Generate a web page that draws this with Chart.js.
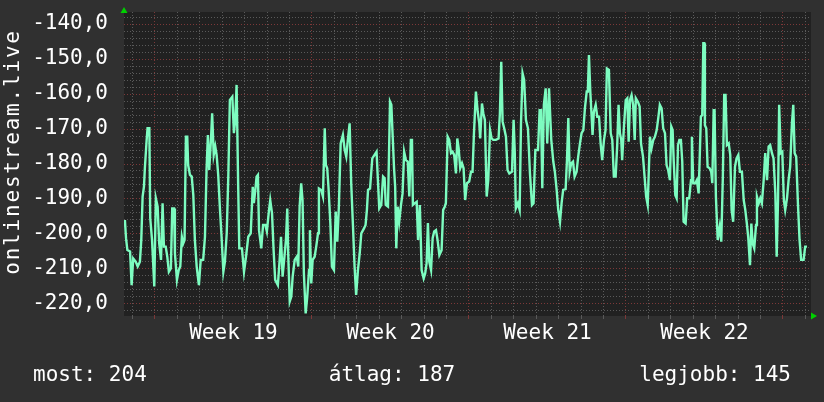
<!DOCTYPE html>
<html>
<head>
<meta charset="utf-8">
<script src="https://cdn.jsdelivr.net/npm/chart.js@4"></script>
<style>
  html, body { margin: 0; padding: 0; background: #303030; }
  #wrap { width: 824px; height: 402px; }
</style>
</head>
<body>
<div id="wrap"><canvas id="pingChart" width="824" height="402"></canvas></div>
<script>
// days measured from the start of week 19 (red grid line)
const dayPos = [
  -1.34, -1.29, -1.23, -1.11, -1.04, -0.97, -0.86, -0.77, -0.67, -0.61, -0.55, -0.49, -0.45, -0.37, -0.33, -0.25, -0.21, -0.13, -0.03,
  0.04, 0.12, 0.19, 0.27, 0.34, 0.40, 0.48, 0.55, 0.62, 0.71, 0.77, 0.85, 0.89, 0.98, 1.06, 1.13, 1.20, 1.26, 1.32, 1.38, 1.44, 1.48,
  1.56, 1.64, 1.71, 1.78, 1.86, 1.96, 2.04, 2.15, 2.23, 2.30, 2.36, 2.42, 2.50, 2.55, 2.62, 2.69, 2.75, 2.82, 2.90, 2.97, 3.05, 3.12,
  3.20, 3.27, 3.34, 3.45, 3.52, 3.58, 3.64, 3.71, 3.76, 3.88, 3.97, 4.06, 4.16, 4.27, 4.36, 4.41, 4.49, 4.53, 4.59, 4.64, 4.74, 4.82,
  4.92, 4.99, 5.07, 5.14, 5.22, 5.29, 5.36, 5.48, 5.56, 5.62, 5.69, 5.76, 5.84, 5.90, 5.94, 6.01, 6.08, 6.14, 6.23, 6.32, 6.39, 6.45,
  6.52, 6.58, 6.64, 6.72, 6.79, 6.87, 6.91, 6.97, 7.03, 7.12, 7.19, 7.27, 7.31, 7.41, 7.49, 7.57, 7.62, 7.68, 7.74, 7.82, 7.89, 7.98,
  8.06, 8.13, 8.20, 8.28, 8.38, 8.46, 8.53, 8.60, 8.68, 8.75, 8.83, 8.90, 8.97, 9.05, 9.13, 9.20, 9.32, 9.39, 9.45, 9.50, 9.59, 9.69,
  9.79, 9.88, 9.94, 10.00, 10.09, 10.17, 10.24, 10.29, 10.39, 10.48, 10.54, 10.60, 10.66, 10.71, 10.76, 10.82, 10.89, 10.97, 11.04,
  11.11, 11.19, 11.27, 11.34, 11.41, 11.46, 11.50, 11.59, 11.67, 11.73, 11.81, 11.89, 11.98, 12.05, 12.11, 12.17, 12.23, 12.31, 12.38,
  12.45, 12.53, 12.60, 12.68, 12.78, 12.85, 12.92, 12.97, 13.05, 13.12, 13.20, 13.27, 13.34, 13.42, 13.48, 13.54, 13.61, 13.69, 13.76,
  13.83, 13.91, 14.01, 14.09, 14.16, 14.22, 14.31, 14.39, 14.46, 14.50, 14.58, 14.64, 14.71, 14.79, 14.86, 14.94, 15.01, 15.08, 15.20,
  15.32, 15.38, 15.44, 15.50, 15.57, 15.65, 15.72, 15.80, 15.92, 15.99, 16.04, 16.09, 16.18, 16.26, 16.32, 16.39, 16.46, 16.54, 16.63,
  16.72, 16.81, 16.88, 16.96, 17.08, 17.15, 17.21, 17.27, 17.34, 17.42, 17.49, 17.57, 17.61, 17.67, 17.76, 17.83, 17.91, 17.98, 18.06,
  18.13, 18.20, 18.31, 18.37, 18.43, 18.49, 18.56, 18.64, 18.71, 18.80, 18.87, 18.95, 19.02, 19.10, 19.17, 19.25, 19.30, 19.35, 19.41,
  19.47, 19.51, 19.57, 19.65, 19.72, 19.80, 19.87, 19.94, 20.02, 20.09, 20.15, 20.24, 20.32, 20.39, 20.46, 20.54, 20.61, 20.67, 20.73,
  20.79, 20.83, 20.91, 20.99, 21.06, 21.12, 21.18, 21.25, 21.32, 21.39, 21.44, 21.53, 21.61, 21.67, 21.76, 21.83, 21.90, 21.97, 22.02,
  22.07, 22.14, 22.22, 22.29, 22.37, 22.44, 22.51, 22.59, 22.66, 22.74, 22.81, 22.88, 22.96, 23.02, 23.08, 23.13, 23.20, 23.26, 23.32,
  23.38, 23.45, 23.51, 23.57, 23.66, 23.73, 23.82, 23.90, 23.94, 24.00, 24.09, 24.16, 24.24, 24.30, 24.34, 24.40, 24.45, 24.49, 24.52,
  24.58, 24.64, 24.73, 24.80, 24.85, 24.91, 24.95, 25.01, 25.09, 25.18, 25.25, 25.32, 25.38, 25.44, 25.50, 25.58, 25.65, 25.71, 25.78,
  25.86, 25.93, 26.01, 26.08, 26.17, 26.25, 26.32, 26.39, 26.45, 26.53, 26.59, 26.65, 26.72, 26.80, 26.84, 26.92, 26.99, 27.06, 27.14,
  27.21, 27.29, 27.36, 27.43, 27.51, 27.58, 27.66, 27.72, 27.78, 27.83, 27.90, 27.97, 28.04, 28.10, 28.18, 28.25, 28.32, 28.40, 28.46,
  28.52, 28.59, 28.67, 28.74, 28.81, 28.92, 28.99, 29.07
];
const latency = [
  -196.0, -201.2, -204.6, -205.0, -214.6, -207.0, -207.9, -209.3, -207.9, -201.7, -189.3, -186.5, -181.2, -173.1, -169.8, -169.8, -195.5, -201.7, -215.0,
  -189.8, -192.2, -202.7, -207.4, -191.2, -203.6, -203.6, -206.5, -210.8, -209.8, -192.7, -192.7, -205.5, -213.1, -210.3, -209.3, -200.8, -202.7, -201.7, -172.2, -172.2, -180.3,
  -183.1, -183.6, -188.9, -201.7, -209.3, -214.6, -207.4, -207.4, -200.8, -181.7, -171.7, -181.7, -172.7, -165.5, -177.4, -175.0, -177.4, -183.1, -193.1, -200.8, -210.8, -207.9,
  -199.8, -183.6, -161.7, -160.8, -171.2, -167.4, -157.4, -186.0, -204.1, -204.1, -210.8, -206.5, -200.8, -199.8, -186.5, -191.2, -186.5, -183.6, -183.1, -198.9, -204.1, -197.4,
  -197.4, -199.3, -194.1, -190.3, -194.1, -204.6, -213.1, -214.6, -207.4, -200.8, -212.2, -207.4, -201.7, -192.7, -205.5, -219.3, -217.9, -212.2, -207.4, -206.5, -209.3, -192.2,
  -185.5, -190.3, -211.2, -222.7, -217.9, -210.3, -198.9, -214.1, -207.4, -206.5, -203.6, -199.8, -187.0, -187.4, -189.3, -169.8, -180.3, -181.2, -187.0, -196.9, -209.3, -210.3,
  -193.6, -202.2, -192.2, -174.1, -171.7, -176.0, -177.9, -173.1, -168.4, -185.5, -197.9, -209.3, -217.4, -210.3, -205.5, -199.8, -198.4, -197.4, -193.1, -187.4, -187.0, -178.4,
  -177.4, -176.5, -184.6, -192.7, -191.7, -183.6, -184.1, -191.7, -192.2, -162.2, -163.1, -172.2, -181.2, -186.5, -204.1, -192.2, -196.5, -191.7, -188.4,
  -176.5, -178.9, -179.3, -189.3, -173.1, -173.1, -191.7, -191.2, -190.8, -201.7, -191.7, -210.3, -212.7, -211.2, -208.4, -196.9, -207.9, -210.3, -201.2,
  -199.3, -198.9, -201.7, -206.0, -204.6, -193.1, -192.2, -191.2, -172.2, -173.1, -176.9, -176.5, -177.4, -182.7, -172.7, -175.5, -181.2, -179.8, -181.2,
  -190.3, -185.5, -185.0, -182.2, -182.2, -171.7, -159.3, -165.0, -168.4, -172.7, -162.7, -165.5, -167.4, -189.3, -184.6, -170.3, -172.7, -173.1, -173.1,
  -172.7, -165.5, -150.8, -167.9, -169.8, -172.2, -181.7, -182.7, -182.2, -167.4, -176.0, -192.7, -191.2, -193.1, -168.4, -154.1, -156.0, -167.4, -169.8,
  -182.7, -191.7, -191.2, -176.0, -176.0, -164.6, -164.6, -186.9, -163.1, -158.4, -174.1, -158.4, -158.4, -173.1, -179.3, -182.2, -187.4, -193.1, -196.5,
  -191.2, -187.4, -187.2, -178.9, -166.9, -182.2, -179.8, -179.3, -183.6, -182.2, -177.9, -174.1, -171.2, -170.3, -164.1, -159.3, -159.3, -148.9, -159.3,
  -166.5, -171.7, -165.0, -163.1, -166.5, -166.5, -174.1, -178.9, -173.1, -170.3, -152.7, -153.1, -171.2, -173.1, -183.6, -183.6, -174.6, -163.1, -171.2,
  -173.1, -178.9, -169.3, -161.7, -161.2, -173.6, -161.7, -160.3, -163.1, -173.1, -161.2, -162.2, -163.6, -174.1, -177.9, -183.6, -189.3, -191.7, -181.7,
  -172.2, -175.5, -173.1, -172.2, -170.3, -166.9, -163.1, -164.1, -169.8, -171.2, -180.3, -181.7, -184.6, -169.3, -170.3, -179.3, -188.9, -189.8, -174.6,
  -173.1, -173.1, -179.3, -196.5, -197.0, -189.8, -189.8, -184.6, -172.2, -185.5, -185.5, -184.6, -188.4, -175.5, -166.5, -166.0, -145.5, -145.5, -168.9,
  -169.8, -180.8, -181.2, -182.2, -185.5, -164.6, -164.6, -189.3, -201.7, -197.9, -202.2, -183.6, -160.3, -160.3, -174.6, -174.1, -177.4, -193.1, -196.5,
  -180.8, -178.4, -177.4, -182.2, -182.2, -190.3, -193.1, -197.0, -200.8, -208.9, -197.0, -202.7, -204.1, -197.4, -189.3, -191.2, -189.8, -191.2, -184.6,
  -176.9, -184.6, -175.0, -174.6, -176.9, -178.4, -188.4, -206.5, -190.3, -163.1, -176.9, -176.5, -190.3, -193.1, -189.8, -184.6, -180.8, -168.4, -163.1,
  -176.9, -177.9, -191.7, -201.7, -207.4, -207.4, -203.6, -203.6
];
const weekLabels = ['Week 19', 'Week 20', 'Week 21', 'Week 22'];
const yTitle = 'onlinestream.live';
const statNames = ['most', 'átlag', 'legjobb'];
const statValues = [204, 187, 145];

const FONT = '"DejaVu Sans Mono", "Liberation Mono", monospace';
const gridGray = '#5a5a5a';
const gridRed = '#7c3838';

const rrdDecor = {
    id: 'rrdDecor',
    beforeDraw(chart) {
        const { ctx, chartArea: a } = chart;
        ctx.save();
        ctx.fillStyle = '#212121';
        ctx.fillRect(a.left, a.top, a.right - a.left, a.bottom - a.top);
        ctx.restore();
    },
    afterDraw(chart) {
        const { ctx, chartArea: a } = chart;
        ctx.save();
        ctx.fillStyle = '#ffffff';
        ctx.font = '21px ' + FONT;
        // y axis title, a bit spaced out like the original
        ctx.save();
        ctx.translate(19, 152);
        ctx.rotate(-Math.PI / 2);
        ctx.letterSpacing = '1.8px';
        ctx.textAlign = 'center';
        ctx.textBaseline = 'alphabetic';
        ctx.fillText(yTitle, 0, 0);
        ctx.restore();
        // summary line
        ctx.textBaseline = 'alphabetic';
        ctx.textAlign = 'left';
        ctx.fillText(statNames[0] + ': ' + statValues[0], 33, 381);
        ctx.textAlign = 'center';
        ctx.fillText(statNames[1] + ': ' + statValues[1], 392, 381);
        ctx.textAlign = 'right';
        ctx.fillText(statNames[2] + ': ' + statValues[2], 791, 381);
        // axis arrows
        ctx.fillStyle = '#00d000';
        ctx.beginPath();
        ctx.moveTo(a.left - 3.5, a.top + 1);
        ctx.lineTo(a.left + 3.5, a.top + 1);
        ctx.lineTo(a.left, a.top - 5);
        ctx.fill();
        ctx.beginPath();
        ctx.moveTo(a.right, a.bottom - 3.5);
        ctx.lineTo(a.right, a.bottom + 3.5);
        ctx.lineTo(a.right + 6, a.bottom);
        ctx.fill();
        ctx.restore();
    }
};

function setupPingChart() {
    let ctx = document.getElementById('pingChart').getContext('2d');
    let pingChart = new Chart(ctx, {
        type: 'line',
        data: {
            datasets: [{
                label: yTitle,
                data: dayPos.map((d, i) => ({ x: d, y: latency[i] })),
                borderColor: '#7dfcc0',
                borderWidth: 2.4,
                pointRadius: 0,
                tension: 0,
                fill: false
            }]
        },
        options: {
            responsive: false,
            animation: false,
            events: [],
            layout: { padding: { top: 12, right: 13, left: 0, bottom: 0 } },
            scales: {
                x: {
                    type: 'linear',
                    min: -1.38,
                    max: 29.25,
                    afterBuildTicks: scale => {
                        let ticks = [];
                        for (let d = -1; d <= 29; d++) ticks.push({ value: d });
                        weekLabels.forEach((w, i) => ticks.push({ value: 3.5 + 7 * i }));
                        ticks.sort((p, q) => p.value - q.value);
                        scale.ticks = ticks;
                    },
                    afterFit: scale => {
                        scale.height = 86;
                        scale.paddingLeft = 0;
                        scale.paddingRight = 0;
                    },
                    grid: {
                        color: c => Number.isInteger(c.tick.value)
                            ? (c.tick.value % 7 === 0 ? gridRed : gridGray) : 'rgba(0,0,0,0)',
                        tickColor: c => Number.isInteger(c.tick.value)
                            ? (c.tick.value % 7 === 0 ? gridRed : gridGray) : 'rgba(0,0,0,0)',
                        tickLength: 3,
                        lineWidth: 1
                    },
                    border: { display: false, dash: [1, 2] },
                    ticks: {
                        autoSkip: false,
                        maxRotation: 0,
                        padding: 2,
                        color: '#ffffff',
                        font: { family: FONT, size: 21 },
                        callback: v => {
                            let k = (v - 3.5) / 7;
                            return Number.isInteger(k) ? weekLabels[k] : '';
                        }
                    }
                },
                y: {
                    min: -223.43,
                    max: -136.57,
                    afterBuildTicks: scale => {
                        let ticks = [];
                        for (let v = -222; v <= -138; v += 2) ticks.push({ value: v });
                        scale.ticks = ticks;
                    },
                    afterFit: scale => {
                        scale.width = 124;
                        scale.paddingTop = 0;
                        scale.paddingBottom = 0;
                    },
                    grid: {
                        color: c => c.tick.value % 10 === 0 ? gridRed : gridGray,
                        drawTicks: false,
                        lineWidth: 1
                    },
                    border: { display: false, dash: [1, 2] },
                    ticks: {
                        autoSkip: false,
                        padding: 16,
                        color: '#ffffff',
                        font: { family: FONT, size: 21 },
                        callback: v => v % 10 === 0 ? v.toFixed(1).replace('.', ',') : ''
                    }
                }
            },
            plugins: {
                legend: { display: false },
                title: { display: false },
                tooltip: { enabled: false }
            }
        },
        plugins: [rrdDecor]
    });
}

setupPingChart();
</script>
</body>
</html>
